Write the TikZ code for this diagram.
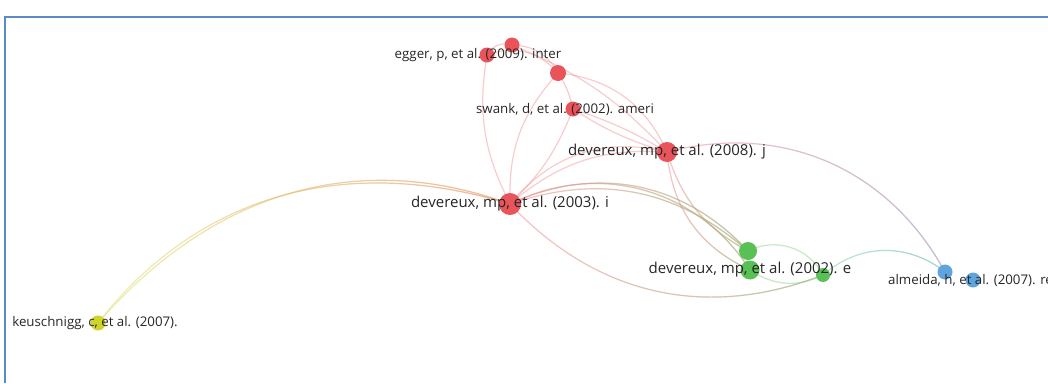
\documentclass[tikz,border=0pt]{standalone}
\usepackage{fontspec}
\setmainfont{Open Sans}
\usepackage{tikz}
\usetikzlibrary{positioning, calc, backgrounds, fadings}

\definecolor{vosred}{RGB}{232,84,90}
\definecolor{vosgreen}{RGB}{88,192,84}
\definecolor{vosblue}{RGB}{96,164,222}
\definecolor{vosyellow}{RGB}{206,212,44}
\definecolor{framecol}{RGB}{92,138,200}

\begin{document}
\begin{tikzpicture}[
    x=1pt, y=-1pt,
    % --- STYLES ---
    item/.style={circle, inner sep=0pt, draw=none, minimum size=15pt},
    bigitem/.style={item, minimum size=22pt},
    lbl/.style={inner sep=0pt, text=black!85, font=\fontsize{13.3}{14}\selectfont},
    biglbl/.style={lbl, font=\fontsize{15}{16}\selectfont},
    link/.style={line width=1.2pt, opacity=0.5},
    redlink/.style={link, draw=vosred!60},
    % left colour fades into right colour
    fadelink/.style 2 args={link, draw=#1!70,
        postaction={draw=#2!75, path fading=west}},
    frame/.style={framecol, line width=1.6pt}
]

\useasboundingbox (0,0) rectangle (1048,383);

% ===== 1. FRAME =====
\draw[frame] (5,383) |- (1048,17);

% ===== 2. RED CLUSTER =====
\node[item, fill=vosred] (egger) at (487,55) {};
\node[item, fill=vosred] (egger2) at (512,45) {};
\node[item, fill=vosred, minimum size=16pt] (redtop) at (558,73) {};
\node[item, fill=vosred] (swank) at (573,109) {};
\node[item, fill=vosred, minimum size=20pt] (dev2008) at (667,152) {};
\node[bigitem, fill=vosred] (dev2003) at (510,204) {};

% ===== 3. GREEN, BLUE AND YELLOW =====
\node[item, fill=vosgreen, minimum size=18pt] (grnA) at (748,251) {};
\node[item, fill=vosgreen, minimum size=19pt] (dev2002) at (750,270) {};
\node[item, fill=vosgreen, minimum size=14pt] (grnC) at (823,275) {};
\node[item, fill=vosblue] (bluA) at (945,272) {};
\node[item, fill=vosblue] (almeida) at (973,280) {};
\node[item, fill=vosyellow] (keusch) at (98,323) {};

% ===== 4. LINKS =====
\begin{scope}[on background layer]
% yellow to red
\draw[fadelink={vosyellow}{vosred}] (keusch.center) to[out=52, in=163] (dev2003.center);
\draw[fadelink={vosyellow}{vosred}] (keusch.center) to[out=49, in=160] (dev2003.center);

% inside the red cluster
\draw[redlink] (egger.center) to[bend left=40] (egger2.center);
\draw[redlink] (egger.center) to[bend left=35] (redtop.center);
\draw[redlink] (egger2.center) to[bend left=30] (redtop.center);
\draw[redlink] (egger.center) to[bend right=18] (dev2003.center);
\draw[redlink] (egger2.center) to[bend left=12] (dev2008.center);
\draw[redlink] (redtop.center) to[bend right=22] (dev2003.center);
\draw[redlink] (redtop.center) to[bend left=10] (swank.center);
\draw[redlink] (redtop.center) to[bend left=30] (dev2008.center);
\draw[redlink] (swank.center) to[bend left=12] (dev2003.center);
\draw[redlink] (swank.center) to[bend right=8] (dev2008.center);
\draw[redlink] (swank.center) to[bend left=6] (dev2008.center);
\draw[redlink] (dev2003.center) to[bend left=22] (dev2008.center);
\draw[redlink] (dev2003.center) to[bend left=32] (dev2008.center);

% red to green
\draw[fadelink={vosred}{vosgreen}] (dev2003.center) to[bend left=30] (grnA.center);
\draw[fadelink={vosred}{vosgreen}] (dev2003.center) to[bend left=36] (grnA.center);
\draw[fadelink={vosred}{vosgreen}] (dev2003.center) to[bend left=42] (dev2002.center);
\draw[fadelink={vosred}{vosgreen}] (dev2003.center) to[bend right=34] (grnC.center);
\draw[fadelink={vosred}{vosgreen}] (dev2008.center) to[bend right=22] (grnA.center);
\draw[fadelink={vosred}{vosgreen}] (dev2008.center) to[bend right=30] (dev2002.center);

% red to blue
\draw[fadelink={vosred}{vosblue}] (dev2008.center) to[bend left=38] (bluA.center);

% green and blue
\draw[link, draw=vosgreen!70] (grnA.center) to[bend left=45] (grnC.center);
\draw[link, draw=vosgreen!70] (dev2002.center) to[bend right=30] (grnC.center);
\draw[fadelink={vosgreen}{vosblue}] (grnC.center) to[bend left=40] (bluA.center);
\end{scope}

% ===== 5. LABELS =====
\node[lbl, xshift=-9pt] (eggerlbl) at (egger) {egger, p, et al. (2009). inter};
\node[lbl, xshift=-8pt] (swanklbl) at (swank) {swank, d, et al. (2002). ameri};
\node[biglbl] (dev2008lbl) at (dev2008) {devereux, mp, et al. (2008). j};
\node[biglbl] (dev2003lbl) at (dev2003) {devereux, mp, et al. (2003). i};
\node[biglbl] (dev2002lbl) at (dev2002) {devereux, mp, et al. (2002). e};
\node[lbl, anchor=west] (almeidalbl) at (888,280) {almeida, h, et al. (2007). rev};
\node[lbl, xshift=-3pt] (keuschlbl) at (keusch) {keuschnigg, c, et al. (2007).};

\end{tikzpicture}
\end{document}
